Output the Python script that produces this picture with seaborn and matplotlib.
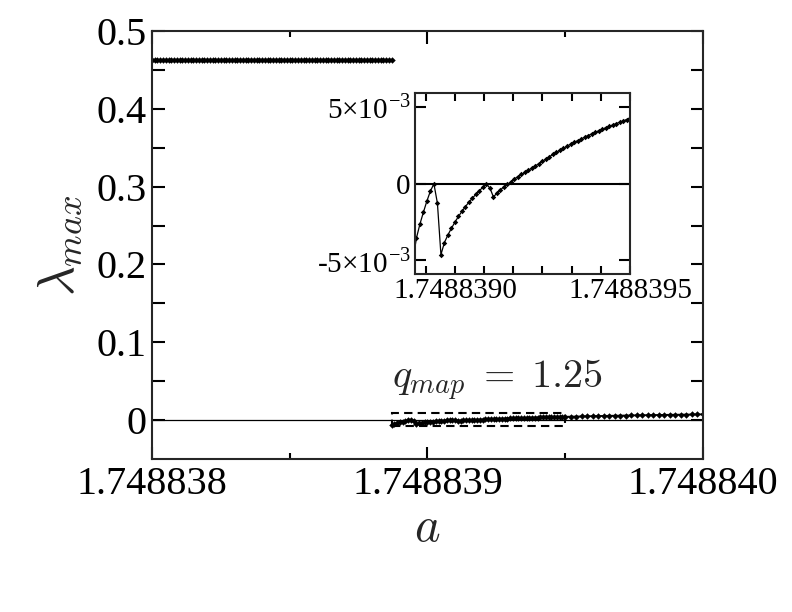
import numpy as np
import pandas as pd
import matplotlib
matplotlib.use('Agg')
import matplotlib.pyplot as plt
import matplotlib.patches as mpatches
import seaborn as sns

# ---- data ----
# upper branch, a = 1.748838 ... in steps of 1e-8
upper_a_start = 1.748838
upper_step = 1e-8
upper_lam = [0.463, 0.463, 0.463, 0.463, 0.463, 0.463, 0.463, 0.463, 0.463, 0.463, 0.463,
             0.463, 0.463, 0.463, 0.463, 0.463, 0.463, 0.463, 0.463, 0.463, 0.463, 0.463,
             0.463, 0.463, 0.463, 0.463, 0.463, 0.463, 0.463, 0.463, 0.463, 0.463, 0.463,
             0.463, 0.463, 0.463, 0.463, 0.463, 0.463, 0.463, 0.463, 0.463, 0.463, 0.463,
             0.463, 0.463, 0.463, 0.463, 0.463, 0.463, 0.463, 0.463, 0.463, 0.463, 0.463,
             0.463, 0.463, 0.463, 0.463, 0.463, 0.463, 0.463, 0.463, 0.463, 0.463, 0.463,
             0.463, 0.463, 0.463, 0.463, 0.463, 0.463, 0.463, 0.463, 0.463, 0.463, 0.463,
             0.463, 0.463, 0.463, 0.463, 0.463, 0.463, 0.463, 0.463, 0.463, 0.463, 0.463]

# lower branch around the crossing (inset), steps of 1e-8, lambda in units of 1e-3
fine_a_start = 1.74883887
fine_step = 1e-8
fine_lam_e3 = [-6.6, -5.0, -3.56, -2.65, -1.87, -1.14, -0.49, -0.02, -1.29, -4.64,
               -3.85, -3.35, -2.92, -2.52, -2.15, -1.82, -1.50, -1.22, -0.95, -0.70,
               -0.46, -0.24, -0.04, -0.30, -0.88, -0.62, -0.42, -0.20, -0.05, 0.10,
               0.30, 0.45, 0.59, 0.73, 0.87, 1.01, 1.15, 1.30, 1.45, 1.60,
               1.75, 1.90, 2.04, 2.17, 2.30, 2.43, 2.56, 2.68, 2.79, 2.90,
               3.01, 3.12, 3.23, 3.33, 3.43, 3.53, 3.63, 3.72, 3.81, 3.90,
               3.99, 4.08, 4.17, 4.26]

# rest of the lower branch, steps of 2e-8, lambda in units of 1e-3
tail_a_start = 1.74883952
tail_step = 2e-8
tail_lam_e3 = [4.43, 4.60, 4.76, 4.92, 5.07, 5.22, 5.36, 5.50, 5.63, 5.76,
               5.89, 6.01, 6.13, 6.25, 6.37, 6.48, 6.59, 6.70, 6.81, 6.91,
               7.01, 7.11, 7.21, 7.30, 7.40]

main_xticks = [1.748838, 1.748839, 1.748840]
main_xticklabels = ['1.748838', '1.748839', '1.748840']
main_yticks = [0, 0.1, 0.2, 0.3, 0.4, 0.5]
main_yticklabels = ['0', '0.1', '0.2', '0.3', '0.4', '0.5']
inset_xticks = [1.7488390, 1.7488395]
inset_xticklabels = ['1.7488390', '1.7488395']
inset_yticks = [-5e-3, 0, 5e-3]
inset_yticklabels = ['-5\u00d710$^{\\mathregular{-3}}$', '0', '5\u00d710$^{\\mathregular{-3}}$']

upper = pd.DataFrame({'a': upper_a_start + upper_step * np.arange(len(upper_lam)),
                      'lam': upper_lam})
fine = pd.DataFrame({'a': fine_a_start + fine_step * np.arange(len(fine_lam_e3)),
                     'lam': np.array(fine_lam_e3) * 1e-3})
tail = pd.DataFrame({'a': tail_a_start + tail_step * np.arange(len(tail_lam_e3)),
                     'lam': np.array(tail_lam_e3) * 1e-3})
lower = pd.concat([fine, tail], ignore_index=True)

sns.set_theme(style='ticks')
plt.rcParams['font.family'] = ['Liberation Serif', 'DejaVu Serif']
plt.rcParams['mathtext.fontset'] = 'cm'
plt.rcParams['axes.linewidth'] = 1.5

fig = plt.figure(figsize=(7.92, 6.12), dpi=100)
ax = fig.add_axes([0.1919, 0.25, 0.6957, 0.6993])

main_kw = dict(color='black', linewidth=1.3, marker='D', markersize=3.3,
               markeredgewidth=0, estimator=None, sort=False, legend=False)
inset_kw = dict(color='black', linewidth=0.9, marker='D', markersize=2.8,
                markeredgewidth=0, estimator=None, sort=False, legend=False)

ax.axhline(0, color='black', linewidth=0.9, zorder=1)
sns.lineplot(data=upper, x='a', y='lam', ax=ax, **main_kw)
sns.lineplot(data=lower, x='a', y='lam', ax=ax, **main_kw)

# dashed box marking the zoomed region
ax.add_patch(mpatches.Rectangle((1.74883887, -0.0075), 6.3e-7, 0.016, fill=False,
                                edgecolor='black', linewidth=1.5,
                                linestyle=(0, (4, 2.5)), zorder=3))
ax.text(1.74883887, 0.0415, r'$q_{map}\;=\;1.25$', fontsize=29,
        ha='left', va='baseline')

ax.set_xlim(1.748838, 1.748840)
ax.set_ylim(-0.05, 0.5)
ax.set_xticks(main_xticks)
ax.set_xticklabels(main_xticklabels)
ax.set_xticks([1.7488385, 1.7488395], minor=True)
ax.set_yticks(main_yticks)
ax.set_yticklabels(main_yticklabels)
ax.tick_params(which='both', direction='in', top=True, right=True, width=1.5,
               labelsize=29, colors='black')
ax.set_yticks([0.05, 0.15, 0.25, 0.35, 0.45], minor=True)
ax.tick_params(axis='x', which='major', length=9, pad=5)
ax.tick_params(axis='x', which='minor', length=4.5)
ax.tick_params(axis='y', which='both', length=9, pad=4)
ax.set_xlabel(r'$a$', fontsize=35, labelpad=3)
ax.set_ylabel(r'$\lambda_{max}$', fontsize=37, labelpad=8)

# inset
axin = fig.add_axes([0.524, 0.5523, 0.2715, 0.2957])
axin.set_facecolor('white')
axin.axhline(0, color='black', linewidth=1.5, zorder=1)
sns.lineplot(data=fine, x='a', y='lam', ax=axin, **inset_kw)
axin.set_xlim(1.748838886, 1.7488395)
axin.set_ylim(-5.9e-3, 5.9e-3)
axin.set_xticks(inset_xticks)
axin.set_xticklabels(inset_xticklabels)
axin.set_xticks(1.7488390 + (5e-7 / 6) * np.array([-1, 1, 2, 3, 4, 5]), minor=True)
axin.set_yticks(inset_yticks)
axin.set_yticklabels(inset_yticklabels)
axin.tick_params(which='both', direction='in', top=True, right=True, width=1.5,
                 labelsize=21, colors='black')
axin.tick_params(axis='x', which='both', length=6, pad=3)
axin.tick_params(axis='y', which='both', length=8, pad=3)
axin.set_xlabel('')
axin.set_ylabel('')

fig.savefig('out.png', dpi=100)
